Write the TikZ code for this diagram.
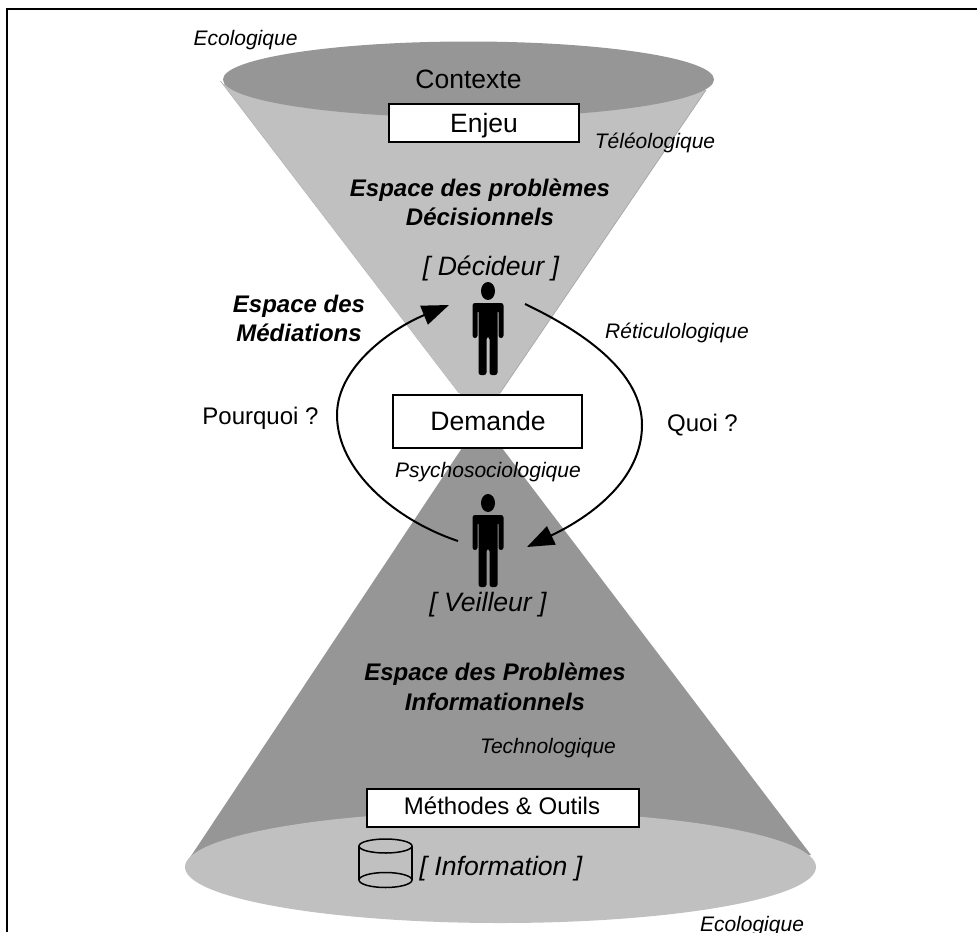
\documentclass[tikz,border=0pt]{standalone}
\usepackage{fontspec}
\setmainfont{Liberation Sans}
\usetikzlibrary{arrows.meta}
\definecolor{lightc}{HTML}{C0C0C0}
\definecolor{darkc}{HTML}{969696}
\newcommand{\fs}[1]{\fontsize{#1}{#1}\selectfont}
\tikzset{
  x=1pt,y=-1pt,
  box/.style={draw=black,line width=2pt,fill=white,minimum width=#1,inner sep=0pt,outer sep=0pt},
  lab/.style={anchor=base,inner sep=0pt,font=\fs{21}\itshape},
  big/.style={anchor=base,inner sep=0pt,font=\fs{26.6}\itshape},
  hd/.style={anchor=base,inner sep=0pt,font=\fs{24}\bfseries\itshape},
  plain/.style={anchor=base,inner sep=0pt,font=\fs{24}},
  arc/.style={line width=2pt,-{Triangle[length=27pt,width=20pt]}},
  person/.pic={
    \fill[black] (0,-2) ellipse [x radius=7,y radius=9];
    \fill[black,rounded corners=2.5pt] (-15.5,10) -- (15.5,10) -- (15.5,45) -- (10.5,45) -- (10.5,17) -- (9.5,17)
      -- (9.5,82) -- (1.5,82) -- (1.5,44) -- (-1.5,44) -- (-1.5,82) -- (-9.5,82) -- (-9.5,17) -- (-10.5,17)
      -- (-10.5,45) -- (-15.5,45) -- cycle;
  }
}
\begin{document}
\begin{tikzpicture}
\useasboundingbox (0,0) rectangle (977,932);
% frame
\draw[line width=2.2pt] (7,932) -- (7,9) -- (977,9);
% lower cone
\fill[darkc] (187,862) -- (462,448) -- (502,448) -- (811,855) -- (500,867) -- cycle;
\fill[lightc] (500.5,867) ellipse [x radius=315.5,y radius=56];
% upper cone
\fill[lightc] (223,84) -- (481,421) -- (706,90) -- (468,79) -- cycle;
\draw[line width=0.7pt,black!30] (220.5,81) -- (459,393);
\draw[line width=0.7pt,black!35] (706,90) -- (500,393);
\fill[darkc] (468.5,79.5) ellipse [x radius=245.5,y radius=38];
% boxes
\node[box=190pt,minimum height=38pt] (enjeu) at (484,123) {};
\node[box=189pt,minimum height=53pt] (demande) at (487.5,421.5) {};
\node[box=272pt,minimum height=38pt] (methodes) at (503,808) {};
% texts
\node[lab] (eco1) at (245.5,45.5) {Ecologique};
\node[anchor=base,inner sep=0pt,font=\fs{26.5}] (ctx) at (468.5,88) {Contexte};
\node[anchor=base,inner sep=0pt,font=\fs{26.5}] (enj) at (484,132) {Enjeu};
\node[lab] (tele) at (655,148) {Téléologique};
\node[hd] (epd1) at (480,196) {Espace des problèmes};
\node[hd] (epd2) at (480,225) {Décisionnels};
\node[big] (decideur) at (491,275) {[ Décideur ]};
\node[hd] (med1) at (299,312) {Espace des};
\node[hd] (med2) at (299,341) {Médiations};
\node[lab] (retic) at (677,338) {Réticulologique};
\node[plain] (pq) at (260.5,424) {Pourquoi ?};
\node[plain] (quoi) at (702.5,431) {Quoi ?};
\node[anchor=base,inner sep=0pt,font=\fs{26.6}] (dem) at (488,430) {Demande};
\node[lab] (psy) at (488,477) {Psychosociologique};
\node[big] (veilleur) at (488,611) {[ Veilleur ]};
\node[hd] (epi1) at (495,680) {Espace des Problèmes};
\node[hd] (epi2) at (495,710) {Informationnels};
\node[lab] (tech) at (548,753) {Technologique};
\node[plain] (mo) at (502,814) {Méthodes \& Outils};
\node[big] (info) at (501,875) {[ Information ]};
\node[lab] (eco2) at (752,931) {Ecologique};
% persons
\pic at (488,293) {person};
\pic at (488,505) {person};
% cycle
\coordinate (ltail) at (458,541);
\coordinate (lmid) at (337,415);
\coordinate (lhead) at (449,305);
\coordinate (rtail) at (525,304);
\coordinate (rmid) at (642,425);
\coordinate (rhead) at (527,547);
\draw[arc] (ltail) .. controls (395,520) and (337,470) .. (lmid) .. controls (337,365) and (395,327) .. (lhead);
\draw[arc] (rtail) .. controls (590,335) and (642,375) .. (rmid) .. controls (642,480) and (590,517) .. (rhead);
% cylinder
\draw[line width=1.5pt] (359,846) -- (359,880) (412,846) -- (412,880);
\draw[line width=1.5pt] (385.5,846) ellipse [x radius=26.5,y radius=7];
\draw[line width=1.5pt] (385.5,880) ellipse [x radius=26.5,y radius=7.5];
\end{tikzpicture}
\end{document}
